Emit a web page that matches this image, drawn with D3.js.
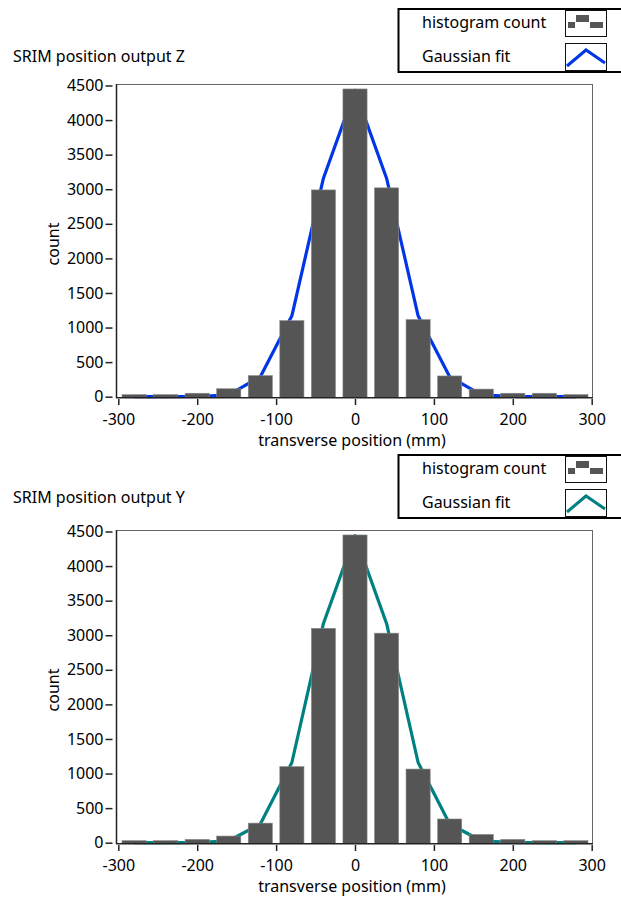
<!DOCTYPE html>
<html>
<head>
<meta charset="utf-8">
<script src="https://cdn.jsdelivr.net/npm/d3@7"></script>
<style>
  html, body { margin: 0; padding: 0; background: #ffffff; }
  svg { display: block; }
  text { font-family: "Noto Sans", "Open Sans", sans-serif; fill: #000; }
</style>
</head>
<body>
<svg id="chart" width="621" height="902"></svg>
<script>
// Bin centres of the transverse-position histogram (mm), 40 mm bins
const binCenters = [-280, -240, -200, -160, -120, -80, -40, 0, 40, 80, 120, 160, 200, 240, 280];

// Histogram counts per bin
const countsZ = [30, 30, 50, 115, 305, 1100, 2990, 4450, 3020, 1115, 300, 110, 50, 50, 30];
const countsY = [30, 30, 48, 96, 283, 1100, 3100, 4450, 3030, 1065, 343, 120, 48, 29, 29];

// Gaussian fit evaluated at the bin centres
const fitZ = [0, 0, 3, 28, 290, 1170, 3160, 4430, 3160, 1170, 290, 28, 3, 0, 0];
const fitY = [0, 0, 3, 28, 270, 1160, 3170, 4440, 3170, 1160, 270, 28, 3, 0, 0];

// Axis tick values
const xTicks = [-300, -200, -100, 0, 100, 200, 300];
const yTicks = [0, 500, 1000, 1500, 2000, 2500, 3000, 3500, 4000, 4500];

const titles = ["SRIM position output Z", "SRIM position output Y"];
const legendLabels = ["histogram count", "Gaussian fit"];
const fitColors = ["#0036e6", "#008080"];
const xLabel = "transverse position (mm)";
const yLabel = "count";

const svg = d3.select("#chart");
const barColor = "#555555";
const halfBar = 15.3; // half bar width in mm
const fontSize = "16px";
const plainNumber = d => String(d); // keeps an ASCII hyphen for negatives

function drawPanel(yOff, counts, fit, title, lineColor, titleY) {
  const g = svg.append("g").attr("transform", `translate(0,${yOff})`);

  const x = d3.scaleLinear().domain([-300, 300]).range([118.3, 591.7]);
  const y = d3.scaleLinear().domain([0, 4500]).range([396.7, 85.5]);

  // title
  g.append("text").attr("x", 13).attr("y", titleY)
    .style("font-size", fontSize).text(title);

  // legend
  const lg = g.append("g");
  lg.append("rect").attr("x", 398.5).attr("y", 9).attr("width", 240).attr("height", 63)
    .attr("fill", "#fff").attr("stroke", "#000").attr("stroke-width", 2);
  lg.append("text").attr("x", 422).attr("y", 28).style("font-size", fontSize).text(legendLabels[0]);
  lg.append("text").attr("x", 422).attr("y", 62).style("font-size", fontSize).text(legendLabels[1]);
  lg.append("rect").attr("x", 565.5).attr("y", 10.5).attr("width", 41).attr("height", 26)
    .attr("fill", "#fff").attr("stroke", "#111").attr("stroke-width", 1);
  lg.append("rect").attr("x", 565.5).attr("y", 43.5).attr("width", 41).attr("height", 27)
    .attr("fill", "#fff").attr("stroke", "#111").attr("stroke-width", 1);
  // histogram swatch: three small blocks
  lg.append("rect").attr("x", 568).attr("y", 22).attr("width", 7).attr("height", 6).attr("fill", barColor);
  lg.append("rect").attr("x", 576).attr("y", 15).attr("width", 13).attr("height", 7).attr("fill", barColor);
  lg.append("rect").attr("x", 590).attr("y", 22).attr("width", 13).attr("height", 6).attr("fill", barColor);
  // fit swatch: chevron
  lg.append("path").attr("d", "M567,66 L586,50 L605,63")
    .attr("fill", "none").attr("stroke", lineColor).attr("stroke-width", 3);

  // plot background
  g.append("rect").attr("x", 116.5).attr("y", 84.5).attr("width", 476).attr("height", 313)
    .attr("fill", "#fff").attr("stroke", "#666").attr("stroke-width", 1);

  // fit line (behind bars)
  const line = d3.line().x((d, i) => x(binCenters[i])).y(d => y(d));
  g.append("path").datum(fit).attr("d", line)
    .attr("fill", "none").attr("stroke", lineColor).attr("stroke-width", 3.2)
    .attr("stroke-linejoin", "round");

  // bars
  g.selectAll("rect.bar").data(counts).join("rect").attr("class", "bar")
    .attr("x", (d, i) => x(binCenters[i] - halfBar))
    .attr("width", (d, i) => x(binCenters[i] + halfBar) - x(binCenters[i] - halfBar))
    .attr("y", d => y(d))
    .attr("height", d => y(0) - y(d) + 0.8)
    .attr("fill", barColor)
    .attr("stroke", "#8a8a8a").attr("stroke-width", 0.6);

  // frame left/bottom emphasis
  g.append("line").attr("x1", 116.5).attr("x2", 116.5).attr("y1", 84).attr("y2", 398)
    .attr("stroke", "#222").attr("stroke-width", 1.5);
  g.append("line").attr("x1", 116).attr("x2", 593).attr("y1", 397.8).attr("y2", 397.8)
    .attr("stroke", "#222").attr("stroke-width", 1.5);

  // y axis
  const ya = g.append("g").attr("transform", "translate(112.5,0)")
    .call(d3.axisLeft(y).tickValues(yTicks).tickSize(7).tickPadding(2).tickFormat(plainNumber));
  ya.select(".domain").remove();
  ya.selectAll(".tick line").attr("stroke", "#222").attr("stroke-width", 1.5);
  ya.selectAll(".tick text").style("font-size", fontSize).style("font-family", "Noto Sans, Open Sans, sans-serif")
    .attr("fill", "#000");

  // x axis
  const xa = g.append("g").attr("transform", "translate(0,399)")
    .call(d3.axisBottom(x).tickValues(xTicks).tickSize(6).tickFormat(plainNumber));
  xa.select(".domain").remove();
  xa.selectAll(".tick line").attr("stroke", "#222").attr("stroke-width", 1.5);
  xa.selectAll(".tick text").style("font-size", fontSize).style("font-family", "Noto Sans, Open Sans, sans-serif")
    .attr("fill", "#000").attr("y", 26).attr("dy", 0);

  // axis titles
  g.append("text").attr("x", 352).attr("y", 446).attr("text-anchor", "middle")
    .style("font-size", fontSize).text(xLabel);
  g.append("text").attr("transform", "translate(59,244) rotate(-90)").attr("text-anchor", "middle")
    .style("font-size", fontSize).text(yLabel);
}

drawPanel(0, countsZ, fitZ, titles[0], fitColors[0], 62);
drawPanel(446, countsY, fitY, titles[1], fitColors[1], 57);
</script>
</body>
</html>
